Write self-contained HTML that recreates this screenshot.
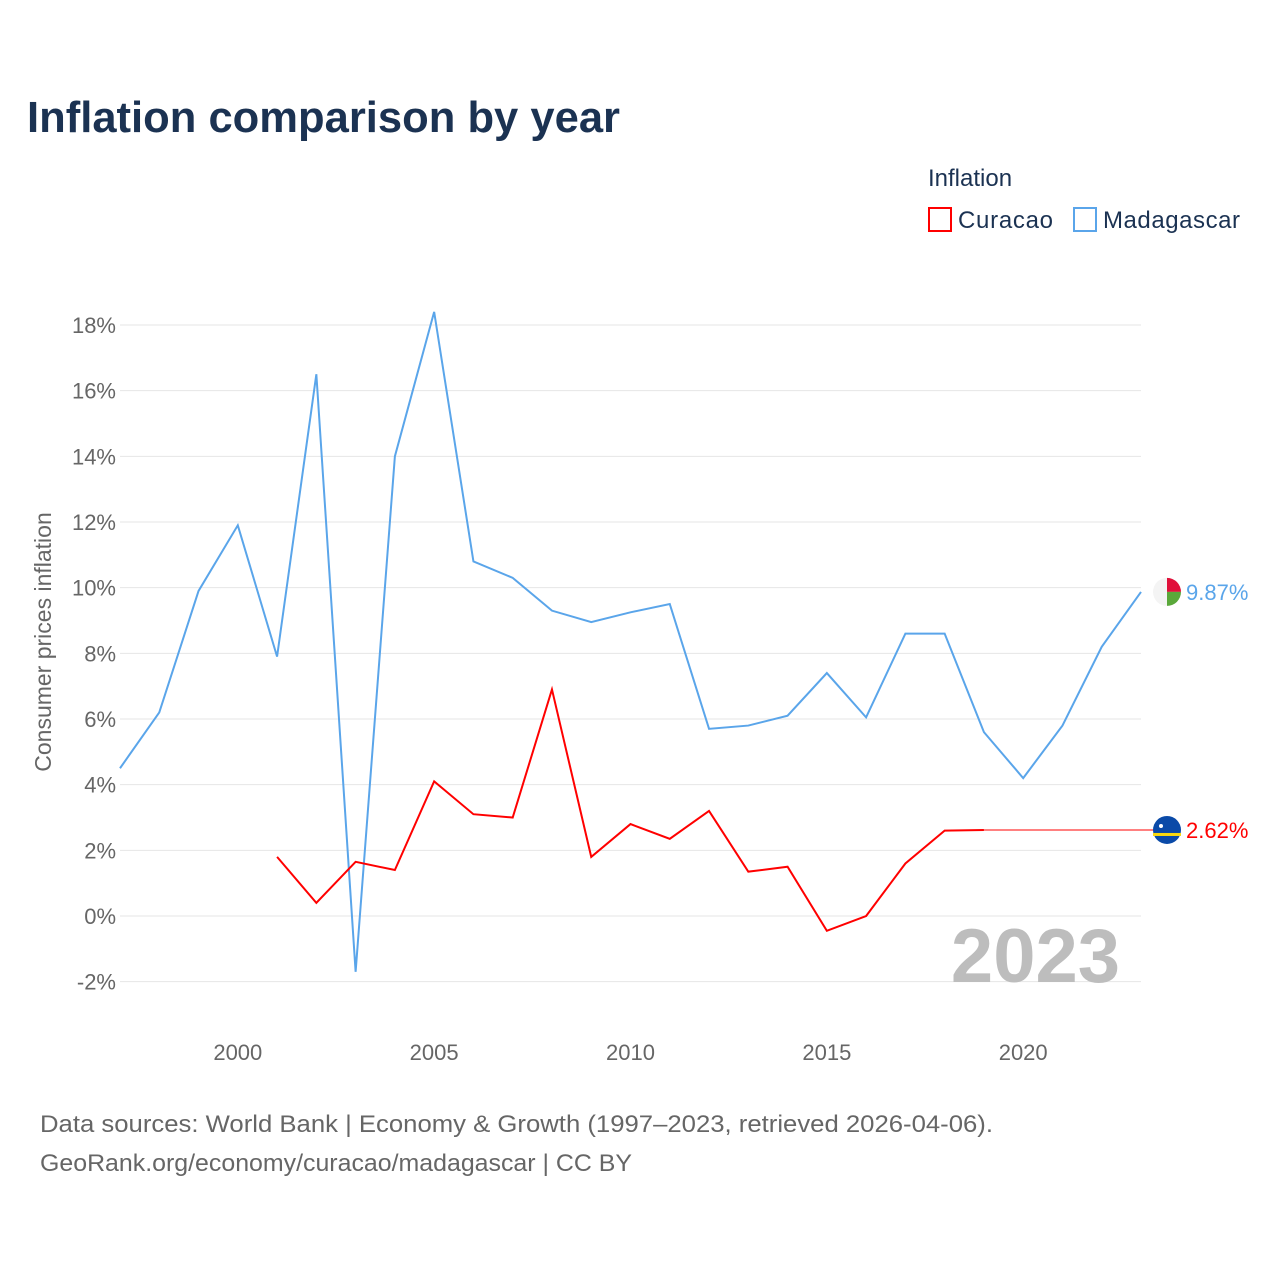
<!DOCTYPE html>
<html><head><meta charset="utf-8"><style>
body{margin:0;background:#fff;font-family:"Liberation Sans",sans-serif;}
svg text{font-family:"Liberation Sans",sans-serif;}
</style></head><body>
<svg id="c" width="1280" height="1280" viewBox="0 0 1280 1280">
<text x="27" y="132" font-size="44" font-weight="bold" fill="#1b3252" textLength="593" lengthAdjust="spacingAndGlyphs">Inflation comparison by year</text>
<text x="928" y="186" font-size="24" fill="#1b3252">Inflation</text>
<g><rect x="929" y="208" width="22" height="23" fill="none" stroke="#f00" stroke-width="2"/><text x="958" y="228" font-size="24" fill="#1b3252" textLength="95">Curacao</text></g>
<g><rect x="1074" y="208" width="22" height="23" fill="none" stroke="#5aa5ea" stroke-width="2"/><text x="1103" y="228" font-size="24" fill="#1b3252" textLength="137">Madagascar</text></g>
<g id="grid"></g><g id="xt"></g>
<text transform="translate(51,642) rotate(-90)" text-anchor="middle" font-size="23" fill="#666">Consumer prices inflation</text>
<text x="1120" y="982" text-anchor="end" font-size="76" font-weight="bold" fill="#bdbdbd">2023</text>
<g id="series"></g>
<text x="40" y="1132" font-size="24" fill="#666" textLength="953" lengthAdjust="spacingAndGlyphs">Data sources: World Bank | Economy &amp; Growth (1997–2023, retrieved 2026-04-06).</text>
<text x="40" y="1171" font-size="24" fill="#666" textLength="592" lengthAdjust="spacingAndGlyphs">GeoRank.org/economy/curacao/madagascar | CC BY</text>
</svg>
<script>
const years=[1997,1998,1999,2000,2001,2002,2003,2004,2005,2006,2007,2008,2009,2010,2011,2012,2013,2014,2015,2016,2017,2018,2019,2020,2021,2022,2023];
const madagascar=[4.5,6.2,9.9,11.9,7.9,16.5,-1.7,14.0,18.4,10.8,10.3,9.3,8.95,9.25,9.5,5.7,5.8,6.1,7.4,6.05,8.6,8.6,5.6,4.2,5.8,8.2,9.87];
const curacaoYears=[2001,2002,2003,2004,2005,2006,2007,2008,2009,2010,2011,2012,2013,2014,2015,2016,2017,2018,2019];
const curacao=[1.8,0.4,1.65,1.4,4.1,3.1,3.0,6.9,1.8,2.8,2.35,3.2,1.35,1.5,-0.45,0,1.6,2.6,2.62];
const yTicks=[-2,0,2,4,6,8,10,12,14,16,18];
const xTicks=[2000,2005,2010,2015,2020];
const X=y=>120+(y-1997)*(1141-120)/26;
const Y=v=>916-v*(916-325)/18;
const NS="http://www.w3.org/2000/svg";
function mk(t,a,p){const e=document.createElementNS(NS,t);for(const k in a)e.setAttribute(k,a[k]);p.appendChild(e);return e;}
const g=document.getElementById('grid'),xt=document.getElementById('xt'),s=document.getElementById('series');
yTicks.forEach(v=>{
 const l=mk('line',{x1:120,x2:1141,y1:Y(v),y2:Y(v),stroke:'#e6e6e6','stroke-width':1},g);
 
 
 const t=mk('text',{x:116,y:Y(v)+8,'text-anchor':'end','font-size':22,fill:'#666'},g);t.textContent=v+'%';
 
 
});
xTicks.forEach(v=>{
 const t=mk('text',{x:X(v),y:1060,'text-anchor':'middle','font-size':22,fill:'#666'},xt);t.textContent=v;
 
 
});
const pm=mk('polyline',{points:years.map((y,i)=>X(y)+','+Y(madagascar[i])).join(' '),fill:'none',stroke:'#5aa5ea','stroke-width':2},s);


const pc=mk('polyline',{points:curacaoYears.map((y,i)=>X(y)+','+Y(curacao[i])).join(' '),fill:'none',stroke:'#f00','stroke-width':2},s);


const lastC=curacao[curacao.length-1],lastM=madagascar[madagascar.length-1];
const ext=mk('line',{x1:X(curacaoYears[curacaoYears.length-1]),x2:1160,y1:Y(lastC),y2:Y(lastC),stroke:'#f00','stroke-width':1},s);


const fm=mk('g',{},s);


const cy=Y(lastM);
mk('circle',{cx:1167,cy:cy,r:14,fill:'#f4f4f4'},fm);
mk('path',{d:`M1167 ${cy} L1167 ${cy-14} A14 14 0 0 1 1181 ${cy} Z`,fill:'#e0103a'},fm);
mk('path',{d:`M1167 ${cy} L1181 ${cy} A14 14 0 0 1 1167 ${cy+14} Z`,fill:'#5aa83a'},fm);
const ml=mk('text',{x:1186,y:cy+8,'font-size':22,fill:'#5aa5ea'},s);ml.textContent=lastM.toFixed(2)+'%';


const fc=mk('g',{},s);


const cc=Y(lastC);
mk('circle',{cx:1167,cy:cc,r:14,fill:'#0a4aa8'},fc);
mk('rect',{x:1153,y:cc+3,width:28,height:3,fill:'#f9d90f'},fc);
mk('circle',{cx:1161,cy:cc-4,r:2,fill:'#fff'},fc);
const cl=mk('text',{x:1186,y:cc+8,'font-size':22,fill:'#f00'},s);cl.textContent=lastC.toFixed(2)+'%';


</script>
</body></html>
